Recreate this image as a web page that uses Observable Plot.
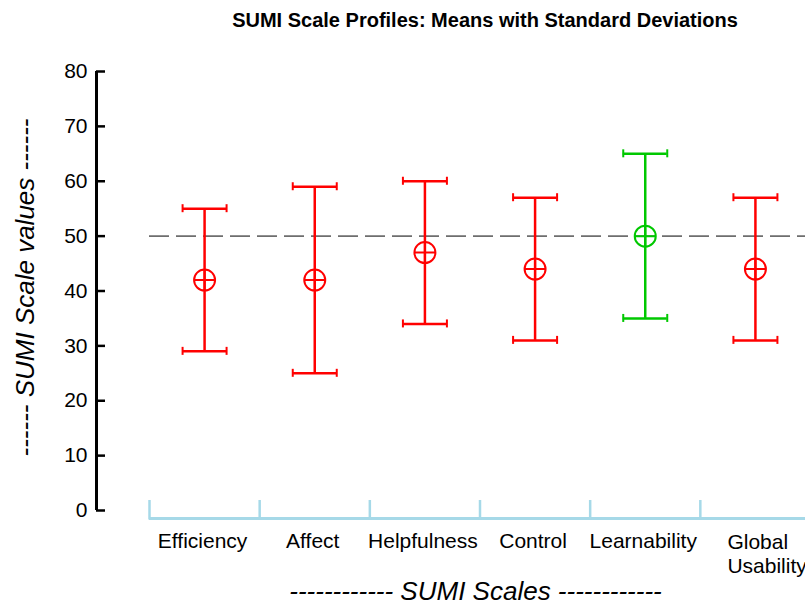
<!DOCTYPE html>
<html>
<head>
<meta charset="utf-8">
<script src="https://cdn.jsdelivr.net/npm/d3@7"></script>
<script src="https://cdn.jsdelivr.net/npm/@observablehq/plot@0.6"></script>
<style>
  html, body { margin: 0; padding: 0; background: #fff; }
  body { font-family: "Liberation Sans", Arial, sans-serif; width: 805px; overflow: hidden; }
  #title { position: relative; width: 805px; height: 40px; }
  #title span { position: absolute; left: 485px; top: 11px; transform: translateX(-50%);
    font-weight: bold; font-size: 20px; line-height: 19px; white-space: nowrap; color: #000; }
  #chart svg { display: block; }
</style>
</head>
<body>
<div id="title"><span>SUMI Scale Profiles: Means with Standard Deviations</span></div>
<div id="chart"></div>
<script>
// ---- data ----
const categories = ["Efficiency", "Affect", "Helpfulness", "Control", "Learnability", "Global\nUsability"];
const means = [42, 42, 47, 44, 50, 44];
const sds = [13, 17, 13, 13, 15, 13];
const yTicks = [0, 10, 20, 30, 40, 50, 60, 70, 80];
const reference = 50;
const xTitle = "------------ SUMI Scales ------------";
const yTitle = "------ SUMI Scale values ------";

// ---- styles ----
const RED = "#ff0000";
const GREEN = "#00c800";
const AXIS_BLUE = "#a6d9e8";
const colorOf = d => d.mean >= reference ? GREEN : RED;

const rows = categories.map((cat, i) => ({cat, pos: i + 0.5, mean: means[i], sd: sds[i]}));
const caps = rows.flatMap(d => [{...d, v: d.mean - d.sd}, {...d, v: d.mean + d.sd}]);
const boundaries = d3.range(categories.length + 1);

const circlePlus = {
  draw(ctx, size) {
    const r = Math.sqrt(size / Math.PI);
    ctx.moveTo(r, 0);
    ctx.arc(0, 0, r, 0, 2 * Math.PI);
    ctx.moveTo(-r, 0); ctx.lineTo(r, 0);
    ctx.moveTo(0, -r); ctx.lineTo(0, r);
  }
};

const chart = Plot.plot({
  width: 805,
  height: 565,
  marginLeft: 149,
  marginRight: -5,
  marginTop: 31,
  marginBottom: 95,
  x: {domain: [0, categories.length], axis: null},
  y: {domain: [d3.min(yTicks), d3.max(yTicks)], axis: null},
  style: {fontFamily: "'Liberation Sans', Arial, sans-serif", background: "white", color: "black", overflow: "visible"},
  marks: [
    // reference dashed line
    Plot.ruleY([reference], {x1: 0, x2: categories.length, stroke: "#6e6e6e", strokeWidth: 1.8, strokeDasharray: "20,7"}),
    // y axis line, ticks and labels
    Plot.ruleX([0], {y1: d3.min(yTicks), y2: d3.max(yTicks), dx: -53, stroke: "black", strokeWidth: 3}),
    Plot.ruleY(yTicks, {y: d => d, x1: 0, x2: 0, dx: -53, insetLeft: 0, insetRight: -9, stroke: "black", strokeWidth: 2.5}),
    Plot.text(yTicks, {y: d => d, x: 0, dx: -62, textAnchor: "end", fontSize: 21, fill: "black"}),
    // x axis (light blue) baseline and band boundaries
    Plot.ruleY([0], {x1: 0, x2: categories.length, dy: 8, stroke: AXIS_BLUE, strokeWidth: 3}),
    Plot.ruleX(boundaries, {x: d => d, y1: 0, y2: 0, insetTop: -10, insetBottom: -9.5, stroke: AXIS_BLUE, strokeWidth: 2.5}),
    // error bars
    Plot.ruleX(rows, {x: "pos", y1: d => d.mean - d.sd, y2: d => d.mean + d.sd, stroke: colorOf, strokeWidth: 2.5}),
    Plot.ruleY(caps, {y: "v", x1: "pos", x2: "pos", insetLeft: -22, insetRight: -22, stroke: colorOf, strokeWidth: 2.5}),
    Plot.ruleX(caps, {x: "pos", y1: "v", y2: "v", dx: -22, insetTop: -4, insetBottom: -4, stroke: colorOf, strokeWidth: 2}),
    Plot.ruleX(caps, {x: "pos", y1: "v", y2: "v", dx: 22, insetTop: -4, insetBottom: -4, stroke: colorOf, strokeWidth: 2}),
    // mean markers
    Plot.dot(rows, {x: "pos", y: "mean", r: 10.5, symbol: circlePlus, stroke: colorOf, strokeWidth: 2, fill: "none"}),
    // category labels
    Plot.text(rows.filter(d => !d.cat.includes("\n")), {x: "pos", text: "cat", frameAnchor: "bottom", lineAnchor: "top", textAnchor: "middle", dy: 23, dx: -2, fontSize: 21, fill: "black"}),
    Plot.text(rows.filter(d => d.cat.includes("\n")), {x: "pos", text: "cat", frameAnchor: "bottom", lineAnchor: "top", dy: 21, dx: -28, textAnchor: "start", lineHeight: 1.15, fontSize: 21, fill: "black"}),
    // axis titles
    Plot.text([xTitle], {frameAnchor: "bottom", textAnchor: "middle", lineAnchor: "middle", dy: 81, dx: -4.5, fontSize: 26, fontStyle: "italic", fill: "black"}),
    Plot.text([yTitle], {frameAnchor: "left", textAnchor: "middle", lineAnchor: "middle", rotate: -90, dx: -124, dy: -3.5, fontSize: 26, fontStyle: "italic", fill: "black"})
  ]
});
document.getElementById("chart").appendChild(chart);
</script>
</body>
</html>
